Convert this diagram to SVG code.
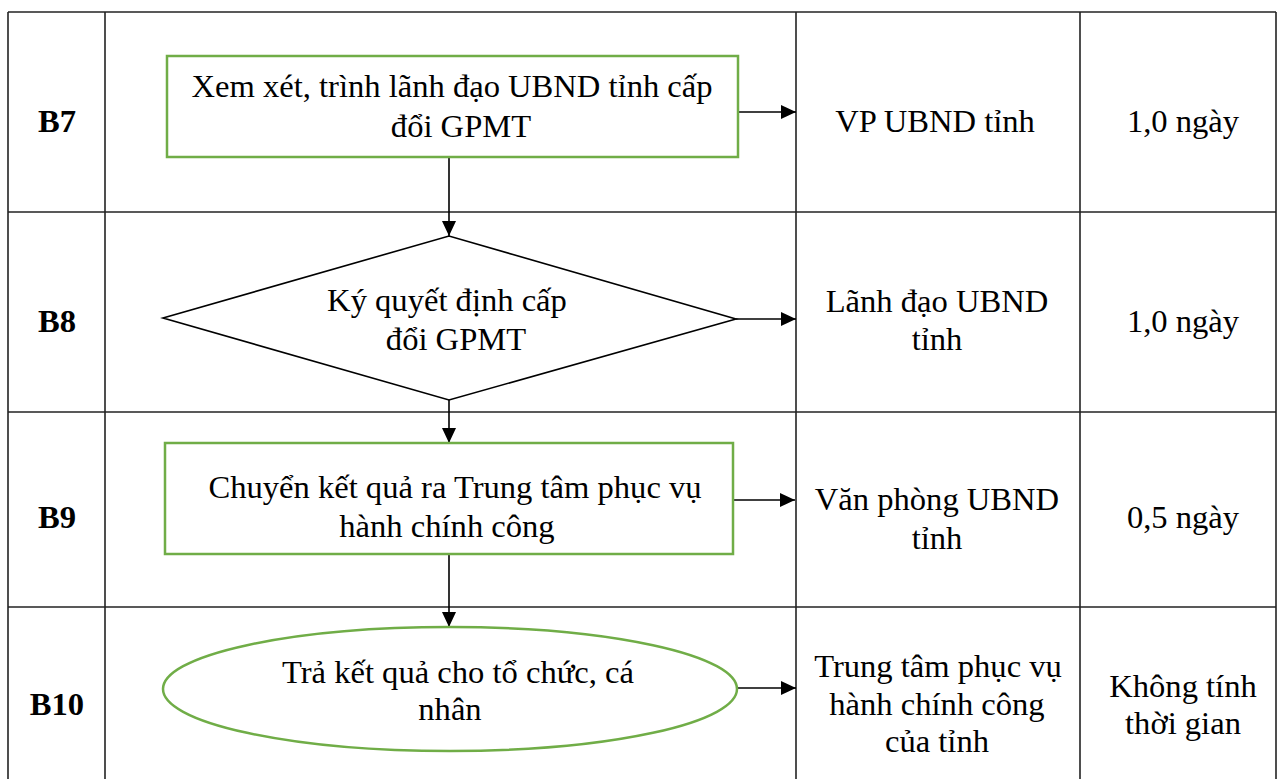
<svg xmlns="http://www.w3.org/2000/svg" width="1277" height="779" viewBox="0 0 1277 779">
<style>
.grid{stroke:#222;stroke-width:1.6;fill:none}
.node{fill:#fff;stroke:#70AD47;stroke-width:2.5}
.t{font-family:"Liberation Serif","Times New Roman",serif;font-size:32.6px;fill:#000;text-anchor:middle}
.b{font-weight:bold}
.conn{stroke:#000;stroke-width:1.6;fill:none;marker-end:url(#ah)}
</style>
<defs>
<marker id="ah" viewBox="0 0 15 14" refX="15" refY="7" markerWidth="15" markerHeight="14" markerUnits="userSpaceOnUse" orient="auto">
<path d="M0,0 L15,7 L0,14 Z" fill="#000"/>
</marker>
</defs>
<rect width="1277" height="779" fill="#fff"/>
<g id="table" class="grid">
<line x1="8" y1="12" x2="1276" y2="12"/>
<line x1="8" y1="212" x2="1276" y2="212"/>
<line x1="8" y1="412" x2="1276" y2="412"/>
<line x1="8" y1="607" x2="1276" y2="607"/>
<line x1="8" y1="12" x2="8" y2="779"/>
<line x1="105" y1="12" x2="105" y2="779"/>
<line x1="796" y1="12" x2="796" y2="779"/>
<line x1="1080" y1="12" x2="1080" y2="779"/>
<line x1="1276" y1="12" x2="1276" y2="779"/>
</g>
<g id="labels">
<text class="t b" x="57" y="132">B7</text>
<text class="t b" x="57" y="332">B8</text>
<text class="t b" x="57" y="528">B9</text>
<text class="t b" x="57" y="715">B10</text>
<text class="t" x="935" y="132">VP UBND tỉnh</text>
<text class="t" x="937" y="312">Lãnh đạo UBND</text>
<text class="t" x="937" y="350">tỉnh</text>
<text class="t" x="937" y="510">Văn phòng UBND</text>
<text class="t" x="937" y="549">tỉnh</text>
<text class="t" x="938" y="677">Trung tâm phục vụ</text>
<text class="t" x="937" y="715">hành chính công</text>
<text class="t" x="937" y="752">của tỉnh</text>
<text class="t" x="1183" y="132">1,0 ngày</text>
<text class="t" x="1183" y="332">1,0 ngày</text>
<text class="t" x="1183" y="528">0,5 ngày</text>
<text class="t" x="1183" y="697">Không tính</text>
<text class="t" x="1183" y="734">thời gian</text>
</g>
<g id="connectors">
<line class="conn" x1="738" y1="112" x2="796" y2="112"/>
<line class="conn" x1="449" y1="157" x2="449" y2="236"/>
<line class="conn" x1="736" y1="319" x2="796" y2="319"/>
<line class="conn" x1="449" y1="400" x2="449" y2="443"/>
<line class="conn" x1="733" y1="500" x2="795" y2="500"/>
<line class="conn" x1="449" y1="554" x2="449" y2="627"/>
<line class="conn" x1="737" y1="688" x2="796" y2="688"/>
</g>
<g id="n-b7">
<rect class="node" x="167" y="56" width="571" height="101"/>
<text class="t" x="452" y="97">Xem xét, trình lãnh đạo UBND tỉnh cấp</text>
<text class="t" x="461" y="137">đổi GPMT</text>
</g>
<g id="n-b8">
<polygon points="163,318 449,236 736,319 449,400" fill="#fff" stroke="#000" stroke-width="1.6"/>
<text class="t" x="447" y="311">Ký quyết định cấp</text>
<text class="t" x="456" y="350">đổi GPMT</text>
</g>
<g id="n-b9">
<rect class="node" x="165" y="443" width="568" height="111"/>
<text class="t" x="455" y="498">Chuyển kết quả ra Trung tâm phục vụ</text>
<text class="t" x="447" y="537">hành chính công</text>
</g>
<g id="n-b10">
<ellipse class="node" cx="450" cy="689" rx="287" ry="62"/>
<text class="t" x="458" y="683">Trả kết quả cho tổ chức, cá</text>
<text class="t" x="450" y="720">nhân</text>
</g>
</svg>
